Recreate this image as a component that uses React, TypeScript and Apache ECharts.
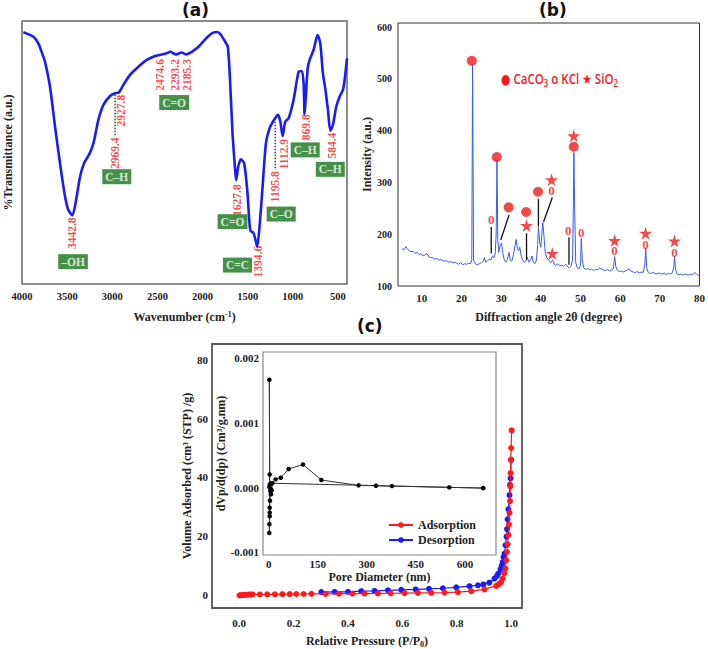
import React, { useEffect, useRef } from "react";
import * as echarts from "echarts";

// ---------- Panel (a): FTIR ----------
const ftirData: [number, number][] = [
  [3985, 95.7], [3874, 94.0], [3819, 91.5], [3771, 87.1], [3745, 84.5], [3690, 75.0], [3634, 59.8],
  [3579, 45.9], [3523, 33.2], [3486, 28.1], [3442.8, 26.2], [3401, 31.9], [3357, 40.8], [3313, 45.9],
  [3254, 49.4], [3209, 53.5], [3154, 62.4], [3098, 68.1], [3024, 71.5], [2969, 72.5], [2928, 72.8],
  [2877, 75.7], [2803, 79.5], [2710, 82.6], [2618, 85.2], [2525, 86.7], [2475, 87.1], [2396, 87.7],
  [2359, 88.3], [2293, 87.3], [2230, 88.0], [2185, 87.3], [2119, 88.3], [2045, 90.2], [1971, 93.0],
  [1897, 95.3], [1849, 95.8], [1805, 95.1], [1749, 92.1], [1720, 90.2], [1694, 76.3], [1668, 57.3],
  [1642, 44.6], [1628, 39.5], [1605, 44.6], [1576, 47.4], [1539, 45.9], [1502, 34.5], [1472, 20.5],
  [1435, 19.3], [1413, 16.7], [1394.6, 14.2], [1369, 21.8], [1335, 37.0], [1298, 53.5], [1258, 59.2],
  [1221, 61.7], [1195.8, 63.0], [1166, 64.3], [1140, 62.1], [1113, 56.3], [1084, 61.7], [1047, 63.0],
  [992, 70.0], [936, 80.7], [900, 81.0], [880, 76.0], [870, 64.4], [855, 72.0], [835, 82.0], [814, 85.2],
  [770, 89.0], [726, 94.7], [696, 91.5], [667, 80.1], [641, 74.4], [611, 66.2], [584.4, 58.3], [556, 60.5],
  [519, 67.4], [482, 71.2], [445, 73.8], [425, 78.0], [400, 85.8],
];
const ftirTicks = [4000, 3500, 3000, 2500, 2000, 1500, 1000, 500];
const ftirPeakText = ["3442.8", "2969.4", "2927.8", "2474.6", "2293.2", "2185.3", "1627.8", "1394.6", "1195.8", "1112.9", "869.8", "584.4"];
const ftirPeakPos: [number, number][] = [
  [3442.8, 19.3], [2969.4, 49.7], [2905, 65.9], [2474.6, 79.5], [2300, 79.5], [2172, 79.5],
  [1620, 31.9], [1386, 8.5], [1201, 37.0], [1100, 49.4], [855, 59.6], [570, 52.6],
];
const ftirGroupText = ["–OH", "C–H", "C=O", "C=O", "C=C", "C–O", "C–H", "C–H"];
const ftirGroupPos: [number, number][] = [
  [3435, 8.5], [2950, 40.8], [2315, 69.0], [1668, 23.7], [1613, 7.2], [1129, 26.6], [863, 51.0], [585, 43.6],
];
const ftirGuides: [number, number][][] = [
  [[2969, 72.0], [2969, 56.5]],
  [[1196, 61.7], [1196, 43.3]],
];

// ---------- Panel (b): XRD ----------
const xrdData: [number, number][] = [
  [5.0, 172], [5.5, 170], [6.0, 176], [6.3, 173], [6.8, 168], [7.3, 166], [7.8, 167], [8.3, 163], [8.8, 165],
  [9.3, 161], [9.8, 162], [10.3, 158], [10.8, 160], [11.3, 163], [11.8, 156], [12.3, 155], [12.8, 154],
  [13.3, 152], [13.8, 153], [14.3, 150], [14.8, 151], [15.3, 149], [15.8, 148], [16.3, 149], [16.8, 146],
  [17.3, 147], [17.8, 145], [18.3, 146], [18.8, 144], [19.3, 142], [19.8, 145], [20.3, 141], [20.8, 143],
  [21.3, 142], [21.8, 144], [22.3, 143], [22.6, 150], [22.8, 528], [23.05, 150], [23.5, 143], [24.0, 141],
  [24.5, 143], [25.0, 145], [25.5, 148], [25.8, 155], [26.1, 146], [26.5, 148], [27.0, 152], [27.4, 150],
  [27.8, 158], [28.2, 155], [28.5, 162], [28.75, 200], [28.95, 343], [29.15, 190], [29.4, 165], [29.8, 180],
  [30.1, 183], [30.4, 165], [30.8, 150], [31.2, 146], [31.6, 152], [32.0, 165], [32.3, 150], [32.7, 148],
  [33.1, 160], [33.5, 178], [33.8, 190], [34.1, 172], [34.4, 168], [34.7, 175], [35.0, 160], [35.4, 150],
  [35.8, 146], [36.2, 148], [36.6, 155], [37.0, 146], [37.4, 150], [37.8, 158], [38.1, 146], [38.5, 143],
  [38.9, 150], [39.2, 180], [39.4, 214], [39.7, 185], [40.0, 175], [40.3, 205], [40.5, 223], [40.8, 195],
  [41.1, 165], [41.5, 155], [42.0, 150], [42.5, 145], [43.0, 150], [43.4, 142], [43.8, 140], [44.3, 143],
  [44.8, 139], [45.3, 140], [45.8, 138], [46.3, 142], [46.8, 137], [47.2, 135], [47.6, 138], [48.0, 150],
  [48.2, 250], [48.35, 358], [48.55, 240], [48.8, 145], [49.2, 135], [49.6, 133], [50.0, 140], [50.2, 192],
  [50.45, 150], [50.8, 135], [51.3, 132], [51.8, 134], [52.3, 131], [52.8, 133], [53.3, 130], [53.8, 132],
  [54.3, 131], [54.8, 135], [55.3, 133], [55.8, 131], [56.3, 130], [56.8, 132], [57.3, 129], [57.8, 131],
  [58.3, 133], [58.6, 157], [58.9, 138], [59.3, 130], [59.8, 128], [60.3, 129], [60.8, 127], [61.3, 129],
  [61.8, 131], [62.3, 133], [62.8, 128], [63.3, 127], [63.8, 126], [64.3, 128], [64.8, 125], [65.3, 127],
  [65.8, 126], [66.2, 140], [66.45, 173], [66.7, 135], [67.1, 126], [67.6, 124], [68.1, 126], [68.6, 125],
  [69.1, 123], [69.6, 125], [70.1, 124], [70.6, 123], [71.1, 125], [71.6, 122], [72.1, 124], [72.6, 123],
  [73.1, 125], [73.5, 135], [73.7, 157], [73.95, 132], [74.3, 124], [74.8, 122], [75.3, 123], [75.8, 121],
  [76.3, 123], [76.8, 122], [77.3, 121], [77.8, 123], [78.3, 122], [78.8, 126], [79.3, 123], [79.8, 120],
];
const xrdTicksX = [10, 20, 30, 40, 50, 60, 70, 80];
const xrdTicksY = [100, 200, 300, 400, 500, 600];
const caco3Marks: [number, number][] = [[22.6, 535], [28.9, 349], [31.9, 252], [36.3, 243], [39.3, 282], [48.3, 369]];
const kclMarks: [number, number][] = [[27.5, 229], [42.7, 284], [46.9, 208], [50.2, 204], [58.6, 168], [66.4, 181], [73.7, 165]];
const sio2Marks: [number, number][] = [[36.4, 217], [42.7, 305], [42.9, 163], [48.3, 390], [58.6, 188], [66.4, 202], [73.7, 187]];
const xrdLeaders: [number, number][][] = [
  [[27.5, 214], [27.5, 163]],
  [[32.0, 237], [29.9, 189]],
  [[36.4, 202], [36.4, 150]],
  [[39.4, 268], [39.4, 215]],
  [[42.9, 271], [40.7, 224]],
  [[47.1, 194], [47.1, 141]],
];

// ---------- Panel (c): N2 isotherm ----------
const adsorption: [number, number][] = [
  [0.001, 0.0], [0.006, 0.05], [0.012, 0.1], [0.018, 0.15], [0.024, 0.2], [0.03, 0.2], [0.036, 0.25],
  [0.042, 0.25], [0.049, 0.3], [0.076, 0.3], [0.103, 0.35], [0.131, 0.35], [0.159, 0.4], [0.186, 0.4],
  [0.21, 0.45], [0.237, 0.45], [0.266, 0.5], [0.318, 0.5], [0.367, 0.55], [0.416, 0.6], [0.461, 0.6],
  [0.51, 0.65], [0.557, 0.7], [0.608, 0.75], [0.657, 0.8], [0.706, 0.85], [0.755, 0.95], [0.804, 1.1],
  [0.853, 1.4], [0.902, 2.0], [0.945, 3.2], [0.955, 3.8], [0.963, 4.5], [0.969, 5.7], [0.975, 7.5],
  [0.979, 9.1], [0.982, 11.9], [0.985, 14.7], [0.987, 17.3], [0.99, 20.5], [0.992, 24.0], [0.994, 28.0],
  [0.996, 32.0], [0.997, 37.0], [0.998, 41.5], [0.999, 46.0], [1.0, 50.0], [1.002, 56.0],
];
const desorption: [number, number][] = [
  [1.0, 46.0], [0.998, 39.7], [0.996, 37.5], [0.994, 34.0], [0.99, 29.2], [0.987, 25.8], [0.985, 22.5],
  [0.983, 19.9], [0.979, 17.0], [0.976, 14.2], [0.972, 13.0], [0.969, 11.3], [0.966, 10.2], [0.961, 8.9],
  [0.953, 7.4], [0.948, 6.6], [0.939, 5.7], [0.92, 4.3], [0.898, 3.7], [0.878, 3.4], [0.847, 3.1],
  [0.798, 2.7], [0.749, 2.4], [0.698, 2.2], [0.649, 2.0], [0.596, 1.85], [0.547, 1.7], [0.498, 1.5],
  [0.449, 1.4], [0.4, 1.2], [0.351, 1.15], [0.302, 1.1],
];
const isoTicksX = [0, 0.2, 0.4, 0.6, 0.8, 1.0];
const isoTicksY = [0, 20, 40, 60, 80];
const poreData: [number, number][] = [
  [656, -0.000005], [552, 0.000006], [377, 0.000026], [328, 0.000031], [275, 0.000037], [161, 0.000119],
  [105, 0.00036], [61, 0.00029], [37, 0.000154], [21, 0.000129], [11, 0.000068], [9, -0.00004],
  [7, -0.0001], [6, -0.00002], [5, -0.00005], [4, -0.0002], [3, -0.00031], [3, -0.00044], [2, -0.0007],
  [2, -0.000565], [3, -0.000385], [2, 0.00001], [3, 0.000206], [2, 0.00167], [3, 0.00005], [8, 0.00007],
  [656, -0.000005],
];
const poreTicksX = [0, 150, 300, 450, 600];
const poreTicksY = [-0.001, 0, 0.001, 0.002];

const SERIF = "'Liberation Serif', 'Times New Roman', serif";
const RED = "#f21b1b";
const GREEN = "#17761c";
const STAR = "path://M50,0 L61,35 L98,35 L68,57 L79,91 L50,70 L21,91 L32,57 L2,35 L39,35 Z";

const tickLabel = (extra: any = {}) => ({
  fontFamily: SERIF,
  fontWeight: "bold",
  fontSize: 11,
  color: "#222",
  ...extra,
});
const nameStyle = (extra: any = {}) => ({
  fontFamily: SERIF,
  fontWeight: "bold",
  fontSize: 12,
  color: "#222",
  ...extra,
});
const supRich = {
  sup: { fontFamily: SERIF, fontWeight: "bold", fontSize: 8, color: "#222", verticalAlign: "top", padding: [0, 0, 6, 0] },
  sub: { fontFamily: SERIF, fontWeight: "bold", fontSize: 8, color: "#222", verticalAlign: "bottom", padding: [6, 0, 0, 0] },
};

const valueAxis = (o: any) => ({
  type: "value",
  axisLine: { show: false },
  axisTick: { show: false },
  splitLine: { show: false },
  ...o,
});

export default function App() {
  const ref = useRef<HTMLDivElement>(null);
  useEffect(() => {
    document.body.style.margin = "0";
    const chart = echarts.init(ref.current!, undefined, { renderer: "svg" });

    const option: any = {
      animation: false,
      backgroundColor: "#fff",
      grid: [
        { left: 22, top: 21, width: 325, height: 263, show: true, borderColor: "#666", borderWidth: 1.5 },
        { left: 398, top: 23, width: 306, height: 263, show: true, borderColor: "#333", borderWidth: 1 },
        { left: 212, top: 344, width: 310, height: 264, show: true, borderColor: "#555", borderWidth: 1.8 },
        { left: 263, top: 352, width: 233, height: 203, show: true, borderColor: "#888", borderWidth: 1.2, backgroundColor: "#fff", z: 3 },
      ],
      xAxis: [
        valueAxis({
          gridIndex: 0, min: 400, max: 4000, inverse: true,
          axisLabel: tickLabel({ customValues: ftirTicks, margin: 7, fontSize: 10.5, formatter: (v: number) => String(v) }),
          name: "Wavenumber (cm{sup|-1})", nameLocation: "middle", nameGap: 26,
          nameTextStyle: nameStyle({ rich: supRich }),
        }),
        valueAxis({
          gridIndex: 1, min: 4, max: 80,
          axisLabel: tickLabel({ customValues: xrdTicksX, margin: 6, formatter: (v: number) => String(v) }),
          name: "Diffraction angle 2θ (degree)", nameLocation: "middle", nameGap: 25,
          nameTextStyle: nameStyle(),
        }),
        valueAxis({
          gridIndex: 2, min: -0.1, max: 1.04,
          axisLabel: tickLabel({ customValues: isoTicksX, margin: 9, formatter: (v: number) => v.toFixed(1) }),
          name: "Relative Pressure (P/P{sub|0})", nameLocation: "middle", nameGap: 26,
          nameTextStyle: nameStyle({ rich: supRich }),
        }),
        valueAxis({
          gridIndex: 3, min: -17.4, max: 695,
          axisLabel: tickLabel({ customValues: poreTicksX, margin: 3, formatter: (v: number) => String(v) }),
          name: "Pore Diameter (nm)", nameLocation: "middle", nameGap: 16,
          nameTextStyle: nameStyle(),
        }),
      ],
      yAxis: [
        valueAxis({
          gridIndex: 0, min: 0, max: 100, axisLabel: { show: false },
          name: "%Transmittance (a.u.)", nameLocation: "middle", nameGap: 8,
          nameTextStyle: nameStyle(),
        }),
        valueAxis({
          gridIndex: 1, min: 100, max: 608,
          axisLabel: tickLabel({ customValues: xrdTicksY, margin: 6, fontSize: 10, formatter: (v: number) => String(v) }),
          name: "Intensity (a.u.)", nameLocation: "middle", nameGap: 24,
          nameTextStyle: nameStyle(),
        }),
        valueAxis({
          gridIndex: 2, min: -4.3, max: 85.3,
          axisLabel: tickLabel({ customValues: isoTicksY, margin: 4, formatter: (v: number) => String(v) }),
          name: "Volume Adsorbed (cm³ (STP) /g)", nameLocation: "middle", nameGap: 17,
          nameTextStyle: nameStyle(),
        }),
        valueAxis({
          gridIndex: 3, min: -0.00104, max: 0.0021,
          axisLabel: tickLabel({ customValues: poreTicksY, margin: 4, formatter: (v: number) => v.toFixed(3) }),
          name: "dVp/d(dp) (Cm³/g.nm)", nameLocation: "middle", nameGap: 32,
          nameTextStyle: nameStyle(),
        }),
      ],
      legend: {
        data: ["Adsorption", "Desorption"],
        orient: "vertical",
        left: 388,
        top: 519,
        padding: 0,
        itemGap: 3,
        itemWidth: 24,
        itemHeight: 7,
        textStyle: { fontFamily: SERIF, fontWeight: "bold", fontSize: 12, color: "#222" },
        z: 10,
      },
      series: [
        // (a)
        {
          type: "line", xAxisIndex: 0, yAxisIndex: 0, data: ftirData, showSymbol: false, smooth: 0.25,
          lineStyle: { color: "#1b1bf5", width: 2.6 }, silent: true,
        },
        ...ftirGuides.map((g) => ({
          type: "line", xAxisIndex: 0, yAxisIndex: 0, data: g, showSymbol: false, silent: true,
          lineStyle: { color: "#111", width: 1.2, type: [1.5, 1.5] },
        })),
        {
          type: "scatter", xAxisIndex: 0, yAxisIndex: 0, symbolSize: 1, silent: true,
          itemStyle: { color: "rgba(0,0,0,0)" },
          data: ftirPeakPos.map((p, i) => ({ value: p, label: { formatter: ftirPeakText[i] } })),
          label: { show: true, position: "inside", rotate: 90, color: RED, fontFamily: SERIF, fontWeight: "bold", fontSize: 11.5 },
          z: 5,
        },
        {
          type: "scatter", xAxisIndex: 0, yAxisIndex: 0, symbolSize: 1, silent: true,
          itemStyle: { color: "rgba(0,0,0,0)" },
          data: ftirGroupPos.map((p, i) => ({ value: p, label: { formatter: ftirGroupText[i] } })),
          label: {
            show: true, position: "inside", color: "#fff", backgroundColor: GREEN, padding: [2, 3, 1, 3],
            fontFamily: SERIF, fontWeight: "bold", fontSize: 11.5,
          },
          z: 5,
        },
        // (b)
        {
          type: "line", xAxisIndex: 1, yAxisIndex: 1, data: xrdData, showSymbol: false, silent: true,
          lineStyle: { color: "#3a5cf0", width: 1 },
        },
        ...xrdLeaders.map((g) => ({
          type: "line", xAxisIndex: 1, yAxisIndex: 1, data: g, showSymbol: false, silent: true,
          lineStyle: { color: "#111", width: 1.3 },
        })),
        {
          type: "scatter", xAxisIndex: 1, yAxisIndex: 1, data: caco3Marks, symbol: "circle", symbolSize: 10,
          itemStyle: { color: RED }, silent: true, z: 5,
        },
        {
          type: "scatter", xAxisIndex: 1, yAxisIndex: 1, data: sio2Marks, symbol: STAR, symbolSize: 13,
          itemStyle: { color: RED }, silent: true, z: 5,
        },
        {
          type: "scatter", xAxisIndex: 1, yAxisIndex: 1, data: kclMarks, symbolSize: 1, silent: true,
          itemStyle: { color: "rgba(0,0,0,0)" },
          label: { show: true, position: "inside", formatter: "0", color: RED, fontFamily: SERIF, fontWeight: "bold", fontSize: 13 },
          z: 5,
        },
        // (c)
        {
          name: "Adsorption", type: "line", xAxisIndex: 2, yAxisIndex: 2, data: adsorption,
          symbol: "circle", symbolSize: 6, lineStyle: { color: "#ff1a1a", width: 1.2 },
          itemStyle: { color: "#ff1a1a" }, silent: true, z: 4,
        },
        {
          name: "Desorption", type: "line", xAxisIndex: 2, yAxisIndex: 2, data: desorption,
          symbol: "circle", symbolSize: 6, lineStyle: { color: "#1a1aff", width: 1.2 },
          itemStyle: { color: "#1a1aff" }, silent: true, z: 3,
        },
        {
          type: "line", xAxisIndex: 3, yAxisIndex: 3, data: poreData, symbol: "circle", symbolSize: 4.5,
          lineStyle: { color: "#333", width: 1 }, itemStyle: { color: "#000" }, silent: true, z: 5,
        },
      ],
      graphic: [
        { type: "text", left: 182, top: 1, style: { text: "(a)", fontFamily: "'DejaVu Sans'", fontWeight: "bold", fontSize: 17, fill: "#111" } },
        { type: "text", left: 539, top: 1, style: { text: "(b)", fontFamily: "'DejaVu Sans'", fontWeight: "bold", fontSize: 17, fill: "#111" } },
        { type: "text", left: 357, top: 317, style: { text: "(c)", fontFamily: "'DejaVu Sans'", fontWeight: "bold", fontSize: 17, fill: "#111" } },
        {
          type: "text", x: 501, y: 69, scaleX: 0.77, z: 10,
          style: {
            text: "{d|●} CaCO{s|3} o KCl {d|★} SiO{s|2}",
            fill: RED,
            fontFamily: "'Open Sans'",
            fontWeight: 600,
            fontSize: 15,
            rich: {
              d: { fill: RED, fontSize: 14, fontFamily: "'DejaVu Sans'" },
              s: { fill: RED, fontSize: 10, fontWeight: 600, fontFamily: "'Open Sans'", verticalAlign: "bottom", padding: [9, 0, 0, 0] },
            },
          },
        },
      ],
    };
    chart.setOption(option);
    return () => chart.dispose();
  }, []);
  return <div ref={ref} style={{ position: "fixed", left: 0, top: 0, width: 708, height: 649 }} />;
}
